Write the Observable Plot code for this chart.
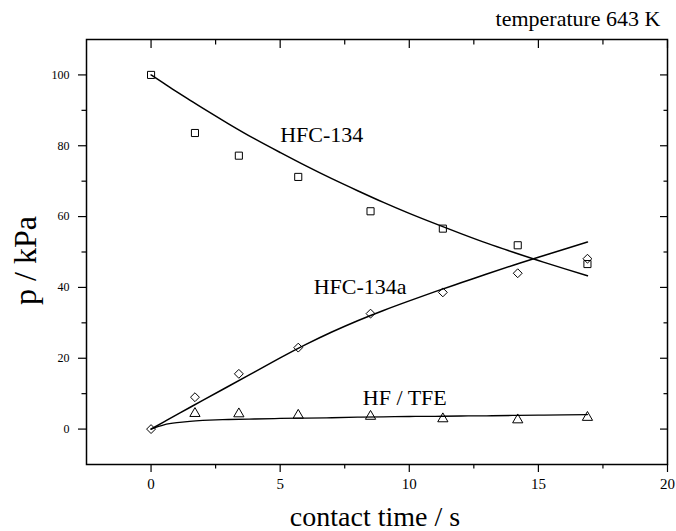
<!DOCTYPE html>
<html><head><meta charset="utf-8">
<script src="https://cdn.jsdelivr.net/npm/d3@7"></script>
<script src="https://cdn.jsdelivr.net/npm/@observablehq/plot@0.6"></script>
<style>
body{margin:0;background:#fff}
#chart svg{display:block; font-family: "Liberation Serif", "Times New Roman", serif !important;}
</style>
</head><body><div id="chart"></div>
<script>
// measured points
const contactTime = [0, 1.7, 3.4, 5.7, 8.5, 11.3, 14.2, 16.9];
const hfc134 = [100, 83.6, 77.2, 71.2, 61.5, 56.6, 51.9, 46.6];
const hfc134a = [0, 9.0, 15.6, 23.0, 32.6, 38.6, 44.0, 48.1];
const hfTfe = [null, 4.4, 4.3, 3.9, 3.6, 2.9, 2.6, 3.3];
// fitted curves
const fitTime = [0, 0.5, 1, 1.5, 2, 3, 4, 5, 6, 7, 8, 9, 10, 11, 12, 13, 14, 15, 16, 16.9];
const fitHfc134 = [100, 97.6, 95.2, 92.9, 90.6, 86.2, 82.0, 78.1, 74.3, 70.7, 67.3, 64.0, 60.9, 58.0, 55.2, 52.5, 50.0, 47.6, 45.3, 43.3];
const fitHfc134a = [0, 2.05, 4.1, 6.1, 8.1, 12.1, 16.1, 20.1, 23.9, 27.4, 30.6, 33.5, 36.2, 38.8, 41.3, 43.8, 46.2, 48.5, 50.8, 52.8];
const fitHfTfe = [0, 1.2, 1.8, 2.2, 2.45, 2.7, 2.85, 3.0, 3.1, 3.2, 3.35, 3.45, 3.55, 3.6, 3.7, 3.75, 3.85, 3.95, 4.0, 4.1];
// ticks
const xMajor = [0, 5, 10, 15, 20];
const xMinor = [2.5, 7.5, 12.5, 17.5];
const yMajor = [0, 20, 40, 60, 80, 100];
const yMinor = [10, 30, 50, 70, 90];
const seriesLabels = ["HFC-134", "HFC-134a", "HF / TFE"];
const titleText = "temperature 643 K";
const xLabel = "contact time / s";
const yLabel = "p / kPa";

const points = contactTime.map((t, i) => ({t, a: hfc134[i], b: hfc134a[i], c: hfTfe[i]}));
const fit = fitTime.map((t, i) => ({t, a: fitHfc134[i], b: fitHfc134a[i], c: fitHfTfe[i]}));

const serif = "Liberation Serif";
const blank = () => "";
const tk = {stroke: "black", strokeWidth: 1.2, label: null};

const chart = Plot.plot({
  width: 676, height: 531,
  marginLeft: 86, marginRight: 9, marginTop: 39, marginBottom: 67,
  style: {background: "white", color: "black"},
  x: {domain: [-2.5, 20], axis: null},
  y: {domain: [-10, 110], axis: null},
  marks: [
    Plot.axisX({...tk, anchor: "bottom", ticks: xMajor, tickSize: 8, tickPadding: 6, fontSize: 15, fontFamily: serif, tickFormat: d => String(d)}),
    Plot.axisX({...tk, anchor: "bottom", ticks: xMinor, tickSize: 4.5, tickFormat: blank}),
    Plot.axisX({...tk, anchor: "top", ticks: xMajor, tickSize: -8, tickFormat: blank}),
    Plot.axisX({...tk, anchor: "top", ticks: xMinor, tickSize: -4.5, tickFormat: blank}),
    Plot.axisY({...tk, anchor: "left", ticks: yMajor, tickSize: 8, tickPadding: 9, fontSize: 12, fontFamily: serif, tickFormat: d => String(d)}),
    Plot.axisY({...tk, anchor: "left", ticks: yMinor, tickSize: 4.5, tickFormat: blank}),
    Plot.axisY({...tk, anchor: "right", ticks: yMajor, tickSize: -8, tickFormat: blank}),
    Plot.axisY({...tk, anchor: "right", ticks: yMinor, tickSize: -4.5, tickFormat: blank}),
    Plot.frame({stroke: "black", strokeWidth: 1.5}),
    Plot.line(fit, {x: "t", y: "a", curve: "natural", stroke: "black", strokeWidth: 1.5}),
    Plot.line(fit, {x: "t", y: "b", curve: "natural", stroke: "black", strokeWidth: 1.5}),
    Plot.line(fit, {x: "t", y: "c", curve: "natural", stroke: "black", strokeWidth: 1.3}),
    Plot.dot(points, {x: "t", y: "a", symbol: "square", r: 4, stroke: "black", strokeWidth: 1, fill: "none"}),
    Plot.dot(points, {x: "t", y: "b", symbol: "diamond2", r: 4, stroke: "black", strokeWidth: 1, fill: "none"}),
    Plot.dot(points, {x: "t", y: "c", symbol: "triangle", r: 3.8, stroke: "black", strokeWidth: 1, fill: "none"}),
    Plot.text([seriesLabels[0]], {x: 5.0, y: 83, textAnchor: "start", fontSize: 22, fontFamily: serif}),
    Plot.text([seriesLabels[1]], {x: 6.3, y: 40, textAnchor: "start", fontSize: 22, fontFamily: serif}),
    Plot.text([seriesLabels[2]], {x: 8.2, y: 8.8, textAnchor: "start", fontSize: 22, fontFamily: serif}),
    Plot.text([titleText], {frameAnchor: "top-right", dx: -7, dy: -14, lineAnchor: "bottom", textAnchor: "end", fontSize: 22, fontFamily: serif}),
    Plot.text([xLabel], {frameAnchor: "bottom", dx: -2, dy: 61, lineAnchor: "bottom", fontSize: 28, fontFamily: serif}),
    Plot.text([yLabel], {frameAnchor: "left", rotate: -90, textAnchor: "middle", dx: -61, dy: 8.5, fontSize: 32, fontFamily: serif})
  ]
});
document.getElementById("chart").appendChild(chart);
</script>
</body></html>
